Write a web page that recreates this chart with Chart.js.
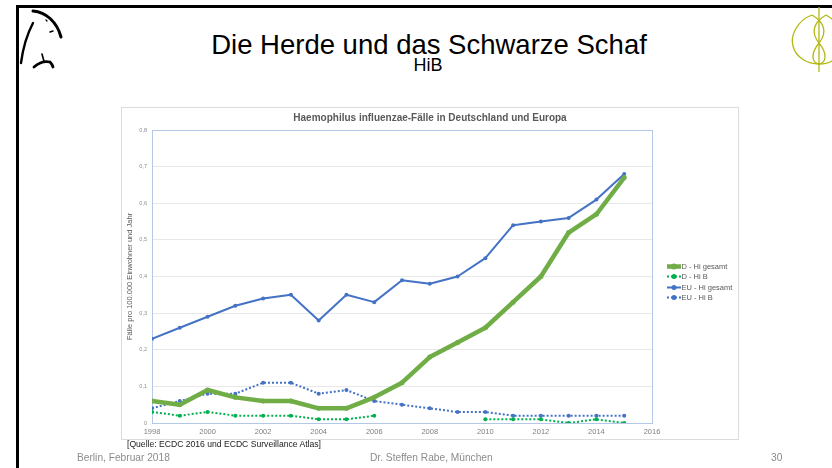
<!DOCTYPE html>
<html>
<head>
<meta charset="utf-8">
<script src="https://cdn.jsdelivr.net/npm/chart.js@4.4.1/dist/chart.umd.min.js"></script>
<style>
  html, body { margin:0; padding:0; background:#fff; }
  body { width:832px; height:468px; position:relative; overflow:hidden; font-family:"Liberation Sans", Arial, sans-serif; }
  .abs { position:absolute; white-space:nowrap; }
  #frameTop { position:absolute; left:16px; top:5px; width:816px; height:2.5px; background:#000; }
  #frameLeft { position:absolute; left:16px; top:5px; width:2.5px; height:463px; background:#000; }
  #title { left:0; width:858px; top:30px; text-align:center; font-size:27.5px; color:#000; line-height:30px; }
  #sub { left:0; width:856px; top:55px; text-align:center; font-size:18px; color:#000; line-height:20px; }
  #box { position:absolute; left:121px; top:107px; width:616px; height:331px; border:1px solid #dcdcdc; }
  #chartCanvas { position:absolute; left:122px; top:108px; }
  #quelle { left:127px; top:438px; font-size:8.6px; color:#1a1a1a; line-height:12px; }
  .foot { top:451px; font-size:10.2px; color:#8c8c8c; line-height:14px; }
</style>
</head>
<body>
<div id="frameTop"></div>
<div id="frameLeft"></div>

<svg class="abs" style="left:0;top:0" width="832" height="90" viewBox="0 0 832 90">
  <!-- left logo -->
  <g fill="none" stroke="#000" stroke-linecap="round">
    <path d="M33,11 C46,12 57,22 61,37" stroke-width="3"/>
    <path d="M33,23 Q24,40 21,63" stroke-width="2.4"/>
    <path d="M46,20 L47,21" stroke-width="1.2"/>
    <path d="M50,32 L53,31" stroke-width="1.4"/>
    <path d="M42,54 Q43,58 44,61" stroke-width="1.6"/>
    <path d="M34,67 Q42,60 50,62 Q52,64 53,67" stroke-width="2.8"/>
  </g>
  <!-- right logo -->
  <g fill="none" stroke="#b3b813" stroke-width="1.3">
    <path d="M819,7 L819,72"/>
    <path d="M812,15 C798,20 790,35 793,46 C796,58 808,64 819,64 C832,64 842,56 843,44 C844,32 836,20 826,15"/>
    <path d="M826,15 C814,22 810,32 819,43 C828,54 826,63 819,64 C812,63 810,54 819,43 C828,32 824,22 812,15"/>
  </g>
</svg>

<div id="title" class="abs">Die Herde und das Schwarze Schaf</div>
<div id="sub" class="abs">HiB</div>

<div id="box"></div>
<canvas id="chartCanvas" width="616" height="331"></canvas>

<div id="quelle" class="abs">[Quelle: ECDC 2016 und ECDC Surveillance Atlas]</div>
<div class="abs foot" style="left:77px;">Berlin, Februar 2018</div>
<div class="abs foot" style="left:370px;">Dr. Steffen Rabe, München</div>
<div class="abs foot" style="left:771px;">30</div>

<script>
// ---- data ----
const years = [1998,1999,2000,2001,2002,2003,2004,2005,2006,2007,2008,2009,2010,2011,2012,2013,2014,2015];
const dHiGesamt  = [0.06,0.05,0.09,0.07,0.06,0.06,0.04,0.04,0.07,0.11,0.18,0.22,0.26,0.33,0.40,0.52,0.57,0.67];
const dHiB       = [0.03,0.02,0.03,0.02,0.02,0.02,0.01,0.01,0.02,null,null,null,0.01,0.01,0.01,0.00,0.01,0.00];
const euHiGesamt = [0.23,0.26,0.29,0.32,0.34,0.35,0.28,0.35,0.33,0.39,0.38,0.40,0.45,0.54,0.55,0.56,0.61,0.68];
const euHiB      = [0.04,0.06,0.08,0.08,0.11,0.11,0.08,0.09,0.06,0.05,0.04,0.03,0.03,0.02,0.02,0.02,0.02,0.02];
const seriesLabels = ['D - Hi gesamt','D - Hi B','EU - Hi gesamt','EU - Hi B'];
const xTickLabels = ['1998','2000','2002','2004','2006','2008','2010','2012','2014','2016'];
const yTickLabels = ['0','0,1','0,2','0,3','0,4','0,5','0,6','0,7','0,8'];
const chartTitle = 'Haemophilus influenzae-Fälle in Deutschland und Europa';
const yAxisTitle = 'Fälle pro 100.000 Einwohner und Jahr';

const toXY = arr => years.map((y, i) => ({x: y, y: arr[i]}));

const FONT = '"Liberation Sans", Arial, sans-serif';
const GREEN = '#70ad47', GREEN2 = '#00b050', BLUE = '#4472c4';

const plotFrame = {
  id: 'plotFrame',
  beforeDatasetsDraw(chart) {
    const {ctx, chartArea: a} = chart;
    ctx.save();
    ctx.strokeStyle = '#b4c7e7';
    ctx.lineWidth = 1;
    ctx.strokeRect(Math.round(a.left) + 0.5, Math.round(a.top) + 0.5, Math.round(a.right - a.left), Math.round(a.bottom - a.top));
    ctx.restore();
  }
};

const sideLegend = {
  id: 'sideLegend',
  afterDraw(chart) {
    const {ctx, chartArea: a} = chart;
    const cy = (a.top + a.bottom) / 2;
    const x0 = a.right + 15;
    ctx.save();
    ctx.font = '7.5px ' + FONT;
    ctx.textBaseline = 'middle';
    ctx.fillStyle = '#595959';
    chart.data.datasets.forEach((ds, i) => {
      const y = Math.round(cy - 10.5 + i * 10.3) + 0.5;
      ctx.strokeStyle = ds.borderColor;
      ctx.lineWidth = ds.borderWidth;
      ctx.setLineDash(ds.borderDash || []);
      ctx.beginPath();
      ctx.moveTo(x0, y);
      ctx.lineTo(x0 + 14, y);
      ctx.stroke();
      ctx.setLineDash([]);
      ctx.fillStyle = ds.borderColor;
      ctx.beginPath();
      ctx.arc(x0 + 7, y, ds.pointRadius + 0.5, 0, Math.PI * 2);
      ctx.fill();
      ctx.fillStyle = '#595959';
      ctx.fillText(ds.label, x0 + 14.5, y);
    });
    ctx.restore();
  }
};

new Chart(document.getElementById('chartCanvas'), {
  type: 'line',
  data: {
    datasets: [
      { label: seriesLabels[0], data: toXY(dHiGesamt), borderColor: GREEN, backgroundColor: GREEN,
        borderWidth: 4.5, pointRadius: 2.5, pointBackgroundColor: GREEN, pointBorderColor: GREEN, pointBorderWidth: 0 },
      { label: seriesLabels[1], data: toXY(dHiB), borderColor: GREEN2, backgroundColor: GREEN2,
        borderWidth: 2, borderDash: [2, 2], pointRadius: 2, pointBackgroundColor: GREEN2, pointBorderColor: GREEN2, pointBorderWidth: 0, spanGaps: false },
      { label: seriesLabels[2], data: toXY(euHiGesamt), borderColor: BLUE, backgroundColor: BLUE,
        borderWidth: 2, pointRadius: 2, pointBackgroundColor: BLUE, pointBorderColor: BLUE, pointBorderWidth: 0 },
      { label: seriesLabels[3], data: toXY(euHiB), borderColor: BLUE, backgroundColor: BLUE,
        borderWidth: 2, borderDash: [2, 2], pointRadius: 2, pointBackgroundColor: BLUE, pointBorderColor: BLUE, pointBorderWidth: 0 }
    ]
  },
  options: {
    responsive: false,
    animation: false,
    devicePixelRatio: 1,
    layout: { padding: 0 },
    elements: { line: { tension: 0, borderCapStyle: 'butt', borderJoinStyle: 'round' } },
    plugins: {
      legend: { display: false },
      tooltip: { enabled: false },
      title: {
        display: true, text: chartTitle, color: '#595959',
        font: { family: FONT, size: 10, weight: 'bold' },
        padding: { top: 4.5, bottom: 5.5 }
      }
    },
    scales: {
      x: {
        type: 'linear', min: 1998, max: 2016,
        grid: { display: false, drawTicks: false },
        border: { display: false },
        ticks: { stepSize: 2, padding: 4, color: '#7f7f7f', maxRotation: 0, autoSkip: false,
          font: { family: FONT, size: 7.5 },
          callback: (v, i) => xTickLabels[i] },
        afterFit: s => { s.height = 16; }
      },
      y: {
        type: 'linear', min: 0, max: 0.8,
        grid: { color: '#e8e8e8', lineWidth: 1, drawTicks: false },
        border: { display: false },
        ticks: { stepSize: 0.1, padding: 5, color: '#8c8c8c',
          font: { family: FONT, size: 5.5 },
          callback: (v, i) => yTickLabels[i] },
        title: { display: true, text: yAxisTitle, color: '#595959',
          font: { family: FONT, size: 7.5 }, padding: { top: 3.5, bottom: 0 } },
        afterFit: s => { s.width = 30; }
      },
      gap: {
        type: 'linear', position: 'right', display: true,
        grid: { display: false, drawTicks: false }, border: { display: false },
        ticks: { display: false },
        afterFit: s => { s.width = 86; }
      }
    }
  },
  plugins: [plotFrame, sideLegend]
});
</script>
</body>
</html>
